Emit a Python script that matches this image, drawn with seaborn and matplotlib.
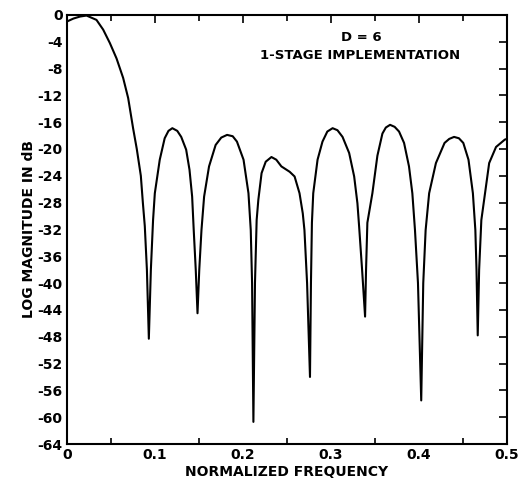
import numpy as np
import pandas as pd
import matplotlib
matplotlib.use("Agg")
import matplotlib.pyplot as plt
import seaborn as sns

# Valores (frecuencia normalizada, magnitud en dB)
frecuencia = [
    0.000, 0.0075, 0.015, 0.0224, 0.0337, 0.0413, 0.0489, 0.0565, 0.0640, 0.0697,
    0.0753, 0.0795, 0.0841, 0.0864, 0.0886, 0.0910, 0.0932, 0.0955, 0.0980,
    0.1000, 0.1056, 0.1112, 0.1155, 0.1199, 0.1255, 0.1300, 0.1356, 0.1394,
    0.1424, 0.1442, 0.1465, 0.1485, 0.1505,
    0.1530, 0.1560, 0.1616, 0.1691, 0.1755, 0.1821, 0.1885, 0.1933, 0.2008,
    0.2064, 0.2090, 0.2105, 0.2120, 0.2138,
    0.2157, 0.2176, 0.2213, 0.2260, 0.2325, 0.2380, 0.2438, 0.2532, 0.2588,
    0.2644, 0.2681, 0.2700, 0.2730, 0.2763, 0.2774,
    0.2785, 0.2800, 0.2849, 0.2905, 0.2960, 0.3020, 0.3075, 0.3133, 0.3208,
    0.3265, 0.3302, 0.3321, 0.3355, 0.3389, 0.3400,
    0.3415, 0.3472, 0.3529, 0.3586, 0.3625, 0.3673, 0.3725, 0.3775, 0.3832,
    0.3888, 0.3926, 0.3956, 0.3990, 0.4027, 0.4050,
    0.4077, 0.4117, 0.4194, 0.4292, 0.4345, 0.4400, 0.4455, 0.4505, 0.4564,
    0.4614, 0.4642, 0.4655, 0.4669, 0.4685,
    0.4710, 0.4752, 0.4799, 0.4877, 0.4977, 0.5000,
]
magnitud = [
    -1.0, -0.55, -0.25, -0.1, -0.75, -2.2, -4.2, -6.5, -9.4, -12.4,
    -16.9, -20.0, -24.0, -28.0, -31.5, -38.0, -48.3, -38.0, -30.6,
    -26.6, -21.6, -18.4, -17.3, -16.9, -17.3, -18.2, -20.1, -23.1,
    -27.1, -32.1, -38.0, -44.5, -38.0,
    -32.1, -27.1, -22.6, -19.4, -18.3, -17.9, -18.1, -18.9, -21.6,
    -26.6, -32.1, -40.0, -60.7, -40.0,
    -30.6, -27.6, -23.6, -21.9, -21.2, -21.6, -22.6, -23.4, -24.1,
    -26.6, -29.6, -32.1, -40.0, -54.0, -40.0,
    -31.0, -26.6, -21.6, -18.9, -17.4, -16.9, -17.2, -18.2, -20.6,
    -24.1, -28.1, -31.5, -38.0, -45.0, -38.0,
    -31.0, -26.6, -21.0, -17.7, -16.8, -16.4, -16.7, -17.4, -19.1,
    -22.6, -26.6, -32.1, -40.0, -57.5, -40.0,
    -32.1, -26.6, -22.1, -19.1, -18.5, -18.2, -18.4, -19.1, -21.6,
    -26.6, -32.1, -38.0, -47.8, -38.0,
    -30.6, -26.6, -22.1, -19.7, -18.6, -18.5,
]

ticks_x = [0, 0.1, 0.2, 0.3, 0.4, 0.5]
etiquetas_x = ['0', '0.1', '0.2', '0.3', '0.4', '0.5']
ticks_x_menores = [0.05, 0.15, 0.25, 0.35, 0.45]
ticks_y = list(range(0, -65, -4))
etiquetas_y = [str(v) for v in ticks_y]

datos = pd.DataFrame({'frecuencia': frecuencia, 'magnitud': magnitud})

sns.set_style('white')
plt.rcParams['font.family'] = ['DejaVu Sans']
plt.rcParams['text.color'] = 'black'
plt.rcParams['axes.labelcolor'] = 'black'

fig = plt.figure(figsize=(5.22, 4.86), dpi=100)
ax = fig.add_axes([0.128, 0.0864, 0.843, 0.883])

sns.lineplot(data=datos, x='frecuencia', y='magnitud', ax=ax,
             color='black', linewidth=1.5, sort=False)

ax.set_xlim(0, 0.5)
ax.set_ylim(-64, 0)
ax.set_xticks(ticks_x)
ax.set_xticklabels(etiquetas_x)
ax.set_xticks(ticks_x_menores, minor=True)
ax.set_yticks(ticks_y)
ax.set_yticklabels(etiquetas_y)

for s in ax.spines.values():
    s.set_visible(True)
    s.set_color('black')
    s.set_linewidth(1.5)

ax.tick_params(axis='both', which='major', direction='in', length=6, width=1.2,
               top=True, right=True, labelsize=10, colors='black', pad=3)
ax.tick_params(axis='x', which='minor', direction='in', length=4.5, width=1.2,
               top=True, bottom=True, colors='black')
for lab in ax.get_xticklabels() + ax.get_yticklabels():
    lab.set_fontweight('bold')
    lab.set_color('black')

ax.set_xlabel('NORMALIZED FREQUENCY', fontsize=10, fontweight='bold', labelpad=2,
              color='black')
ax.set_ylabel('LOG MAGNITUDE IN dB', fontsize=10, fontweight='bold', labelpad=1,
              color='black')

ax.text(0.335, -3.4, 'D = 6', ha='center', va='center', fontsize=9.5,
        fontweight='bold', color='black')
ax.text(0.333, -6.0, '1-STAGE IMPLEMENTATION', ha='center', va='center',
        fontsize=9.5, fontweight='bold', color='black')

fig.savefig('out.png', dpi=100)
